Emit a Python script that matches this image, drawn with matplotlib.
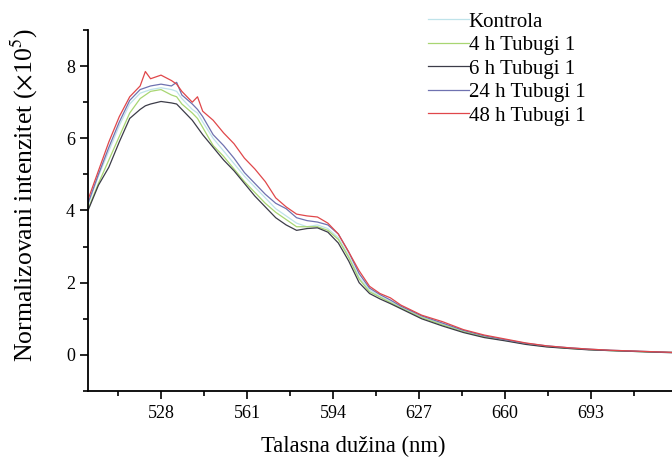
import numpy as np
import matplotlib.pyplot as plt
from matplotlib.ticker import MultipleLocator, FixedLocator

plt.rcParams['font.family'] = ['Liberation Serif', 'DejaVu Serif']
plt.rcParams['mathtext.fontset'] = 'stix'

# wavelengths (nm) and normalized intensities (x10^5)
wavelength = [500, 504, 508, 512, 516, 520, 522, 524, 528, 532, 534, 536, 540, 542,
              544, 548, 552, 556, 560, 564, 568, 572, 576, 580, 584, 588, 592, 596,
              600, 604, 608, 612, 616, 620, 628, 636, 644, 652, 660, 668, 676, 684,
              692, 700, 708, 716, 724]

kontrola = [4.15, 4.95, 5.65, 6.35, 6.95, 7.25, 7.3, 7.35, 7.4, 7.35, 7.3, 7.1, 6.8, 6.7,
            6.45, 6.0, 5.65, 5.3, 4.95, 4.65, 4.35, 4.05, 3.85, 3.65, 3.55, 3.6, 3.5, 3.25,
            2.75, 2.15, 1.8, 1.62, 1.48, 1.32, 1.05, 0.85, 0.66, 0.52, 0.41, 0.31, 0.24, 0.19,
            0.15, 0.12, 0.1, 0.08, 0.07]
tub_4h = [4.03, 4.75, 5.4, 6.05, 6.7, 7.1, 7.2, 7.3, 7.35, 7.2, 7.15, 6.95, 6.7, 6.55,
          6.3, 5.8, 5.5, 5.15, 4.8, 4.5, 4.2, 3.95, 3.75, 3.55, 3.55, 3.55, 3.45, 3.2,
          2.7, 2.1, 1.75, 1.6, 1.45, 1.3, 1.03, 0.83, 0.64, 0.5, 0.4, 0.3, 0.23, 0.18,
          0.15, 0.12, 0.1, 0.08, 0.07]
tub_6h = [4.0, 4.7, 5.2, 5.9, 6.55, 6.8, 6.9, 6.95, 7.02, 6.98, 6.95, 6.8, 6.5, 6.3,
          6.1, 5.75, 5.4, 5.1, 4.75, 4.4, 4.1, 3.8, 3.6, 3.45, 3.5, 3.52, 3.4, 3.1,
          2.6, 2.0, 1.7, 1.55, 1.42, 1.28, 1.0, 0.8, 0.62, 0.48, 0.39, 0.29, 0.22, 0.18,
          0.14, 0.12, 0.1, 0.08, 0.06]
tub_24h = [4.2, 5.0, 5.75, 6.45, 7.05, 7.35, 7.4, 7.45, 7.5, 7.45, 7.55, 7.2, 6.95, 6.8,
           6.6, 6.1, 5.8, 5.45, 5.05, 4.75, 4.45, 4.2, 4.05, 3.8, 3.72, 3.68, 3.6, 3.35,
           2.85, 2.25, 1.85, 1.67, 1.52, 1.35, 1.08, 0.88, 0.68, 0.53, 0.42, 0.32, 0.25, 0.2,
           0.16, 0.13, 0.11, 0.09, 0.07]
tub_48h = [4.3, 5.1, 5.9, 6.6, 7.15, 7.45, 7.85, 7.65, 7.75, 7.6, 7.5, 7.3, 7.0, 7.15,
           6.75, 6.5, 6.15, 5.85, 5.45, 5.15, 4.8, 4.35, 4.1, 3.9, 3.85, 3.82, 3.65, 3.35,
           2.85, 2.33, 1.9, 1.7, 1.58, 1.38, 1.1, 0.92, 0.7, 0.55, 0.44, 0.33, 0.25, 0.2,
           0.16, 0.13, 0.11, 0.09, 0.07]

labels = ['Kontrola', '4 h Tubugi 1', '6 h Tubugi 1', '24 h Tubugi 1', '48 h Tubugi 1']
colors = ['#bfe3ea', '#a8d672', '#3c3c48', '#6f72b0', '#e0474a']
x_major = [528, 561, 594, 627, 660, 693]

fig = plt.figure(figsize=(6.72, 4.57), dpi=100)
ax = fig.add_axes([88 / 672, 1 - 391 / 457, 1 - 88 / 672, 361 / 457])

for y, lab, c in zip([kontrola, tub_4h, tub_6h, tub_24h, tub_48h], labels, colors):
    ax.plot(wavelength, y, color=c, lw=0.9, label=lab)

ax.set_xlim(500, 724)
ax.set_ylim(-1, 9)
ax.xaxis.set_major_locator(FixedLocator(x_major))
ax.xaxis.set_minor_locator(FixedLocator([v - 16.5 for v in x_major] + [709.5]))
ax.yaxis.set_major_locator(MultipleLocator(2))
ax.yaxis.set_minor_locator(MultipleLocator(1))
ax.tick_params(which='major', direction='out', length=6, width=1.2, labelsize=13)
ax.tick_params(which='minor', direction='out', length=3.5, width=1.2)
ax.tick_params(axis='x', pad=4)
ax.spines['top'].set_visible(False)
ax.spines['right'].set_visible(False)
ax.spines['left'].set_linewidth(1.3)
ax.spines['bottom'].set_linewidth(1.3)

ax.set_xlabel('Talasna dužina (nm)', fontsize=16.3)
ax.xaxis.set_label_coords(0.455, -0.124)
ax.set_ylabel(r'Normalizovani intenzitet ($\times$10$^5$)', fontsize=18.5)
ax.yaxis.set_label_coords(-0.083, 0.543)

fig.legend(loc='upper left', bbox_to_anchor=(428 / 672, 1 - 12 / 457), frameon=False,
           fontsize=15, handlelength=1.95, handletextpad=0.0, labelspacing=0.19,
           borderpad=0, borderaxespad=0)

fig.savefig('out.png', dpi=100)
